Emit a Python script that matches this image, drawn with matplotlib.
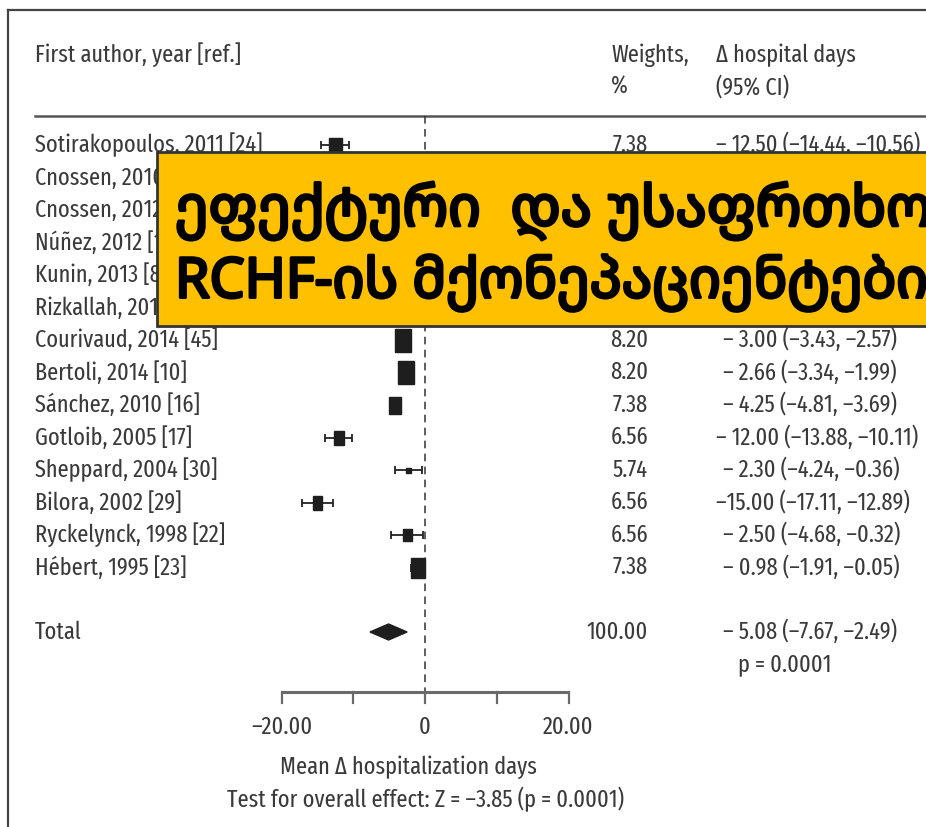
import matplotlib
matplotlib.use('Agg')
import matplotlib.pyplot as plt
from matplotlib.patches import Rectangle, Polygon
import matplotlib.patheffects as pe

# --- data (rows 1-5 sit under the banner, values guessed)
studies = ['Sotirakopoulos, 2011 [24]', 'Cnossen, 2010 [11]', 'Cnossen, 2012 [12]',
           'Núñez, 2012 [13]', 'Kunin, 2013 [8]', 'Rizkallah, 2013 [31]',
           'Courivaud, 2014 [45]', 'Bertoli, 2014 [10]', 'Sánchez, 2010 [16]',
           'Gotloib, 2005 [17]', 'Sheppard, 2004 [30]', 'Bilora, 2002 [29]',
           'Ryckelynck, 1998 [22]', 'Hébert, 1995 [23]']
weights = [7.38, 7.38, 7.38, 6.56, 7.38, 7.34,
           8.20, 8.20, 7.38, 6.56, 5.74, 6.56, 6.56, 7.38]
mean_diff = [-12.50, -2.00, -3.10, -4.00, -5.50, -1.50,
             -3.00, -2.66, -4.25, -12.00, -2.30, -15.00, -2.50, -0.98]
ci_low = [-14.44, -3.00, -4.20, -5.10, -6.90, -2.30,
          -3.43, -3.34, -4.81, -13.88, -4.24, -17.11, -4.68, -1.91]
ci_high = [-10.56, -1.00, -2.00, -2.90, -4.10, -0.70,
           -2.57, -1.99, -3.69, -10.11, -0.36, -12.89, -0.32, -0.05]
total_w = 100.00
total_md, total_lo, total_hi = -5.08, -7.67, -2.49
total_p = '0.0001'
z_value = -3.85
axis_ticks = [-20, -10, 0, 10, 20]
axis_ticklabels = {-20: '–20.00', 0: '0', 20: '20.00'}
banner_lines = ['ეფექტური  და უსაფრთხოა', 'RCHF-ის მქონეპაციენტებისთვის']

# box sizes in pixels (w, h) as drawn in the figure
box_px = [(13, 15), (12, 16), (12, 16), (12, 16), (12, 16), (12, 16),
          (16, 23), (16, 23), (12, 17), (10, 14), (5, 5), (9, 14), (9, 12), (14, 20)]

W, H = 926, 827
X0, PX_PER_UNIT = 425.0, 7.175      # zero line and scale
Y0, ROW_PX = 145.0, 32.5            # first row and row pitch

TXT = '#3a3a3a'
FONT = ['Fira Sans Extra Condensed', 'Fira Sans Condensed', 'DejaVu Sans']
FS = 17.5

fig = plt.figure(figsize=(W / 100, H / 100), dpi=100)
ax = fig.add_axes([0, 0, 1, 1])
ax.set_xlim(-X0 / PX_PER_UNIT, (W - X0) / PX_PER_UNIT)
ax.set_ylim((H - Y0) / ROW_PX, -Y0 / ROW_PX)
ax.axis('off')

def dx(px):  # pixel x -> data x
    return (px - X0) / PX_PER_UNIT

def dy(py):  # pixel y -> data y
    return (py - Y0) / ROW_PX

def txt(px, py, s, ha='left', **kw):
    ax.text(dx(px), dy(py), s, ha=ha, va='center', fontsize=kw.pop('fontsize', FS),
            color=kw.pop('color', TXT), family=kw.pop('family', FONT), **kw)

def fmt(v):
    return ('–' if v < 0 else '') + f'{abs(v):.2f}'

# frame (left + top) and header rule
ax.plot([dx(8), dx(8)], [dy(10), dy(H + 5)], color='#444444', lw=1.6, clip_on=False)
ax.plot([dx(8), dx(W + 5)], [dy(10), dy(10)], color='#444444', lw=1.6, clip_on=False)
ax.plot([dx(35), dx(W + 5)], [dy(116), dy(116)], color='#555555', lw=1.8)

# header
txt(35, 55, 'First author, year [ref.]')
txt(611, 55, 'Weights,')
txt(611, 87, '%')
txt(716, 55, 'Δ hospital days')
txt(716, 87, '(95% CI)')

# zero line
ax.plot([0, 0], [dy(116), dy(692)], color='#333333', lw=1.1, ls=(0, (5, 3.5)))

for i, name in enumerate(studies):
    md, lo, hi = mean_diff[i], ci_low[i], ci_high[i]
    ax.errorbar(md, i, xerr=[[md - lo], [hi - md]], fmt='none', ecolor='#222222',
                elinewidth=1.3, capsize=3, capthick=1.3)
    bw, bh = box_px[i]
    bw, bh = bw / PX_PER_UNIT, bh / ROW_PX
    ax.add_patch(Rectangle((md - bw / 2, i - bh / 2), bw, bh, color='#1e1e1e', zorder=3))
    y = Y0 + ROW_PX * i
    txt(35, y, name)
    txt(648, y, f'{weights[i]:.2f}', ha='right')
    if md <= -15:
        txt(716, y, f'–{abs(md):.2f} ({fmt(lo)}, {fmt(hi)})')
    else:
        txt(716 if abs(md) >= 10 else 723, y, f'– {abs(md):.2f} ({fmt(lo)}, {fmt(hi)})')

# total row
y_tot = dy(632)
hh = 8 / ROW_PX
ax.add_patch(Polygon([(total_lo, y_tot), (total_md, y_tot - hh), (total_hi, y_tot),
                      (total_md, y_tot + hh)], closed=True, color='#1e1e1e', zorder=3))
txt(35, 632, 'Total')
txt(648, 632, f'{total_w:.2f}', ha='right')
txt(723, 632, f'– {abs(total_md):.2f} ({fmt(total_lo)}, {fmt(total_hi)})')
txt(738, 664, f'p = {total_p}')

# bottom scale
y_ax = dy(692)
ax.plot([axis_ticks[0], axis_ticks[-1]], [y_ax, y_ax], color='#6a6a6a', lw=2.2,
        solid_capstyle='butt')
for t in axis_ticks:
    ax.plot([t, t], [y_ax, dy(703)], color='#6a6a6a', lw=1.6)
    if t in axis_ticklabels:
        txt(X0 + t * PX_PER_UNIT, 727, axis_ticklabels[t], ha='center')
txt(408, 767, 'Mean Δ hospitalization days', ha='center')
txt(425, 799, f'Test for overall effect: Z = {fmt(z_value)} (p = {total_p})', ha='center')

# yellow banner over the top rows
ax.add_patch(Rectangle((dx(157), dy(326)), dx(W + 40) - dx(157), dy(152) - dy(326),
                       facecolor='#ffc000', edgecolor='#333333', lw=2, zorder=10,
                       clip_on=False))
stroke = [pe.withStroke(linewidth=2.2, foreground='black')]
for k, line in enumerate(banner_lines):
    ax.text(dx(175), dy(211 + 72 * k), line, ha='left', va='center', fontsize=41 - k,
            fontweight='bold', color='black', zorder=11,
            family=['Noto Sans Georgian', 'DejaVu Sans'], path_effects=stroke)

fig.savefig('out.png', dpi=100, facecolor='white')
